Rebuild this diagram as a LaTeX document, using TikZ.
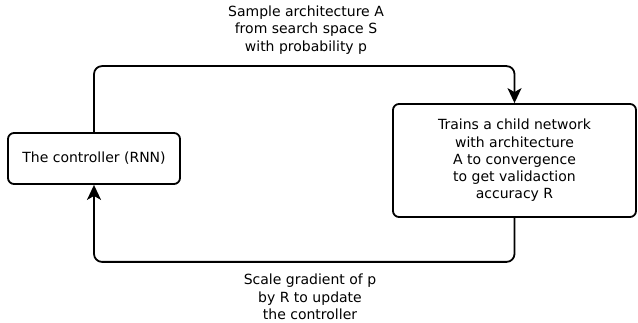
\documentclass[tikz,border=0pt]{standalone}
\usepackage{fontspec}
\setmainfont{DejaVu Sans}
\usetikzlibrary{arrows.meta,positioning}
\begin{document}
\begin{tikzpicture}[x=1pt,y=-1pt,
  box/.style={draw, line width=1.8pt, rounded corners=6pt, align=center, inner sep=0pt},
  flow/.style={line width=1.8pt, rounded corners=8pt, -{Stealth[length=15pt,width=14pt,inset=4pt]}},
  note/.style={align=center}]
  \useasboundingbox (0,0) rectangle (638,323);
  \fontsize{14}{17.3}\selectfont
  %boxes
  \node[box, minimum width=172pt, minimum height=51pt] (controller) at (94,158.5)
    {The controller (RNN)};
  \node[box, minimum width=243pt, minimum height=113pt] (child) at (514.5,160.5)
    {Trains a child network\\with architecture\\A to convergence\\to get validaction\\accuracy R};
  %loop
  \draw[flow] (controller.north) -- ++(0,-66) -| (child.north);
  \draw[flow] (child.south) -- ++(0,44) -| (controller.south);
  %labels
  \node[note] (sample) at (306,30)
    {Sample architecture A\\from search space S\\with probability p};
  \node[note] (update) at (310,297)
    {Scale gradient of p\\by R to update\\the controller};
\end{tikzpicture}
\end{document}
